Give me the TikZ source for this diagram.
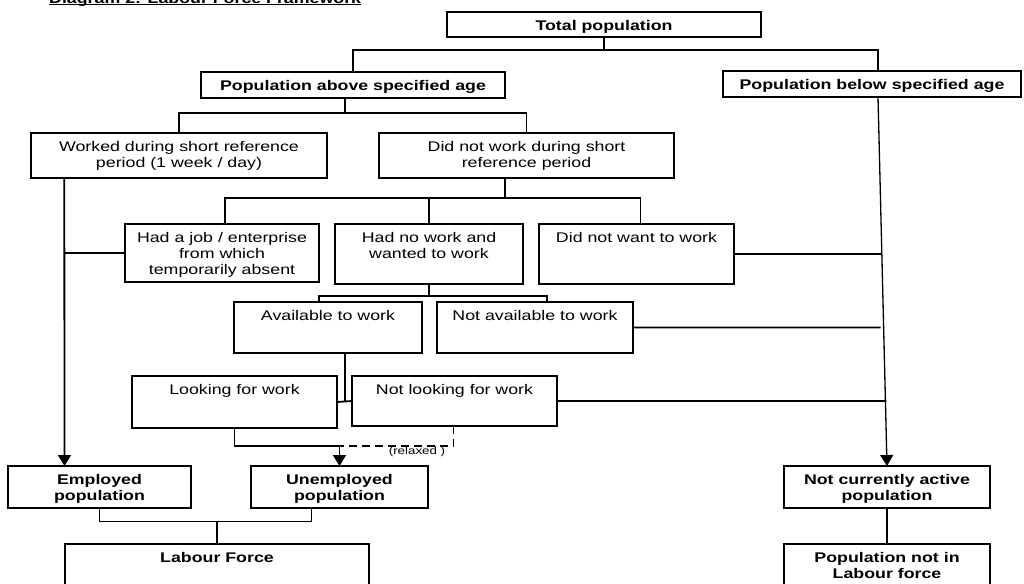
\documentclass[tikz,border=0pt]{standalone}
\usepackage{fontspec}
\setmainfont{Liberation Sans}[FakeStretch=1.27]
\usetikzlibrary{arrows.meta,calc}
\newcommand\bx[6]{%
  \node[boxs, minimum width={#4-#2}, minimum height={#5-#3}, anchor=north west] (#1) at (#2,#3) {};
  \node[txt, anchor=north] (#1t) at ([yshift=-8.5pt]#1.north) {#6};}
\begin{document}
\begin{tikzpicture}[x=1pt,y=-1pt,
  boxs/.style={draw, line width=2pt, inner sep=0pt, outer sep=0pt},
  txt/.style={font=\fontsize{14}{16}\selectfont, align=center, inner sep=0pt},
  conn/.style={line width=1.8pt},
  arr/.style={line width=1.8pt, -{Triangle[length=11pt,width=13pt]}},
  dconn/.style={line width=1.6pt, dash pattern=on 8pt off 5pt}]
\useasboundingbox (0,0) rectangle (1024,583);

% title (mostly cut off at the top)
\node[anchor=base west, font=\fontsize{14}{16}\selectfont\bfseries, inner sep=0pt] (title) at (49,3.5) {Diagram 2: Labour Force Framework};
\draw[line width=1pt] ([yshift=-1.5pt]title.base west) -- ([yshift=-1.5pt]title.base east);

% boxes
\bx{tp}{447}{12}{761}{37}{\bfseries Total population}
\bx{pa}{201}{72}{505}{98}{\bfseries Population above specified age}
\bx{pb}{723}{71}{1021}{97}{\bfseries Population below specified age}
\bx{wk}{31}{133}{327}{178}{Worked during short reference\\period (1 week / day)}
\bx{dnw}{379}{133}{674}{178}{Did not work during short\\reference period}
\bx{hj}{125}{224}{319}{282}{Had a job / enterprise\\from which\\temporarily absent}
\bx{hn}{335}{224}{523}{284}{Had no work and\\wanted to work}
\bx{dw}{539}{224}{734}{284}{Did not want to work}
\bx{av}{234}{302}{422}{353}{Available to work}
\bx{na}{437}{302}{633}{353}{Not available to work}
\bx{lk}{132}{376}{337}{428}{Looking for work}
\bx{nl}{352}{376}{557}{426}{Not looking for work}
\bx{emp}{8}{466}{191}{508}{\bfseries Employed\\\bfseries population}
\bx{un}{251}{466}{428}{508}{\bfseries Unemployed\\\bfseries population}
\bx{nca}{784}{466}{990}{508}{\bfseries Not currently active\\\bfseries population}
\bx{lf}{65}{544}{369}{600}{\bfseries Labour Force}
\bx{pnl}{784}{544}{990}{600}{\bfseries Population not in\\\bfseries Labour force}

% connectors
\draw[conn] (tp.south) -- ++(0,13);
\draw[conn] (pa.north) -- ++(0,-22) -| ([xshift=6]pb.north);
\draw[conn] ([xshift=-8]pa.south) -- ++(0,15);
\draw[conn] (wk.north) -- ++(0,-20) -| (dnw.north);

\coordinate (wl) at ([xshift=-114.7]wk.south);
\draw[arr] (wl) -- ([xshift=-35]emp.north);

\draw[conn] ([xshift=-21.7]dnw.south) -- ++(0,20);
\draw[conn] ([xshift=3]hj.north) -- ++(0,-26) -| ([xshift=4]dw.north);
\draw[conn] (hn.north) -- ++(0,-26);
\draw[conn] (hj.west) -- (hj.west -| wl);

% slanted line from "Population below specified age"
\coordinate (ps) at ([xshift=6]pb.south);
\coordinate (pe) at (nca.north);
\draw[arr, line width=1.3pt] (ps) -- (pe);
\coordinate (dwe) at (dw.east);
\coordinate (dwf) at ([xshift=100pt]dw.east);
\coordinate (nae) at (na.east);
\coordinate (naf) at ([xshift=100pt]na.east);
\coordinate (nle) at (nl.east);
\coordinate (nlf) at ([xshift=100pt]nl.east);
\draw[conn] (dwe) -- (intersection of ps--pe and dwe--dwf);
\draw[conn] (nae) -- ([xshift=-3pt]intersection of ps--pe and nae--naf);
\draw[conn] (nle) -- ([xshift=1pt]intersection of ps--pe and nle--nlf);

\draw[conn] (hn.south) -- ++(0,12);
\draw[conn] ([xshift=-9]av.north) -- ++(0,-6) -| ([xshift=12]na.north);

\draw[conn] ([xshift=17]av.south) -- ++(0,48.8);
\draw[conn] (lk.east) -- (nl.west);

\coordinate (uj) at ([yshift=20pt]un.north);
\draw[arr] (lk.south) |- (uj) -- (un.north);
\draw[dconn] ([xshift=-1]nl.south) |- (uj);
\node[font=\fontsize{10.5}{12}\selectfont, inner sep=0pt, anchor=base] (relax) at (417,454) {(relaxed )};

\draw[conn] (emp.south) -- ++(0,13.5) -| ([xshift=-28]un.south);
\draw[conn] (lf.north) -- ++(0,-22.3);
\draw[conn] (nca.south) -- (pnl.north);
\end{tikzpicture}
\end{document}
